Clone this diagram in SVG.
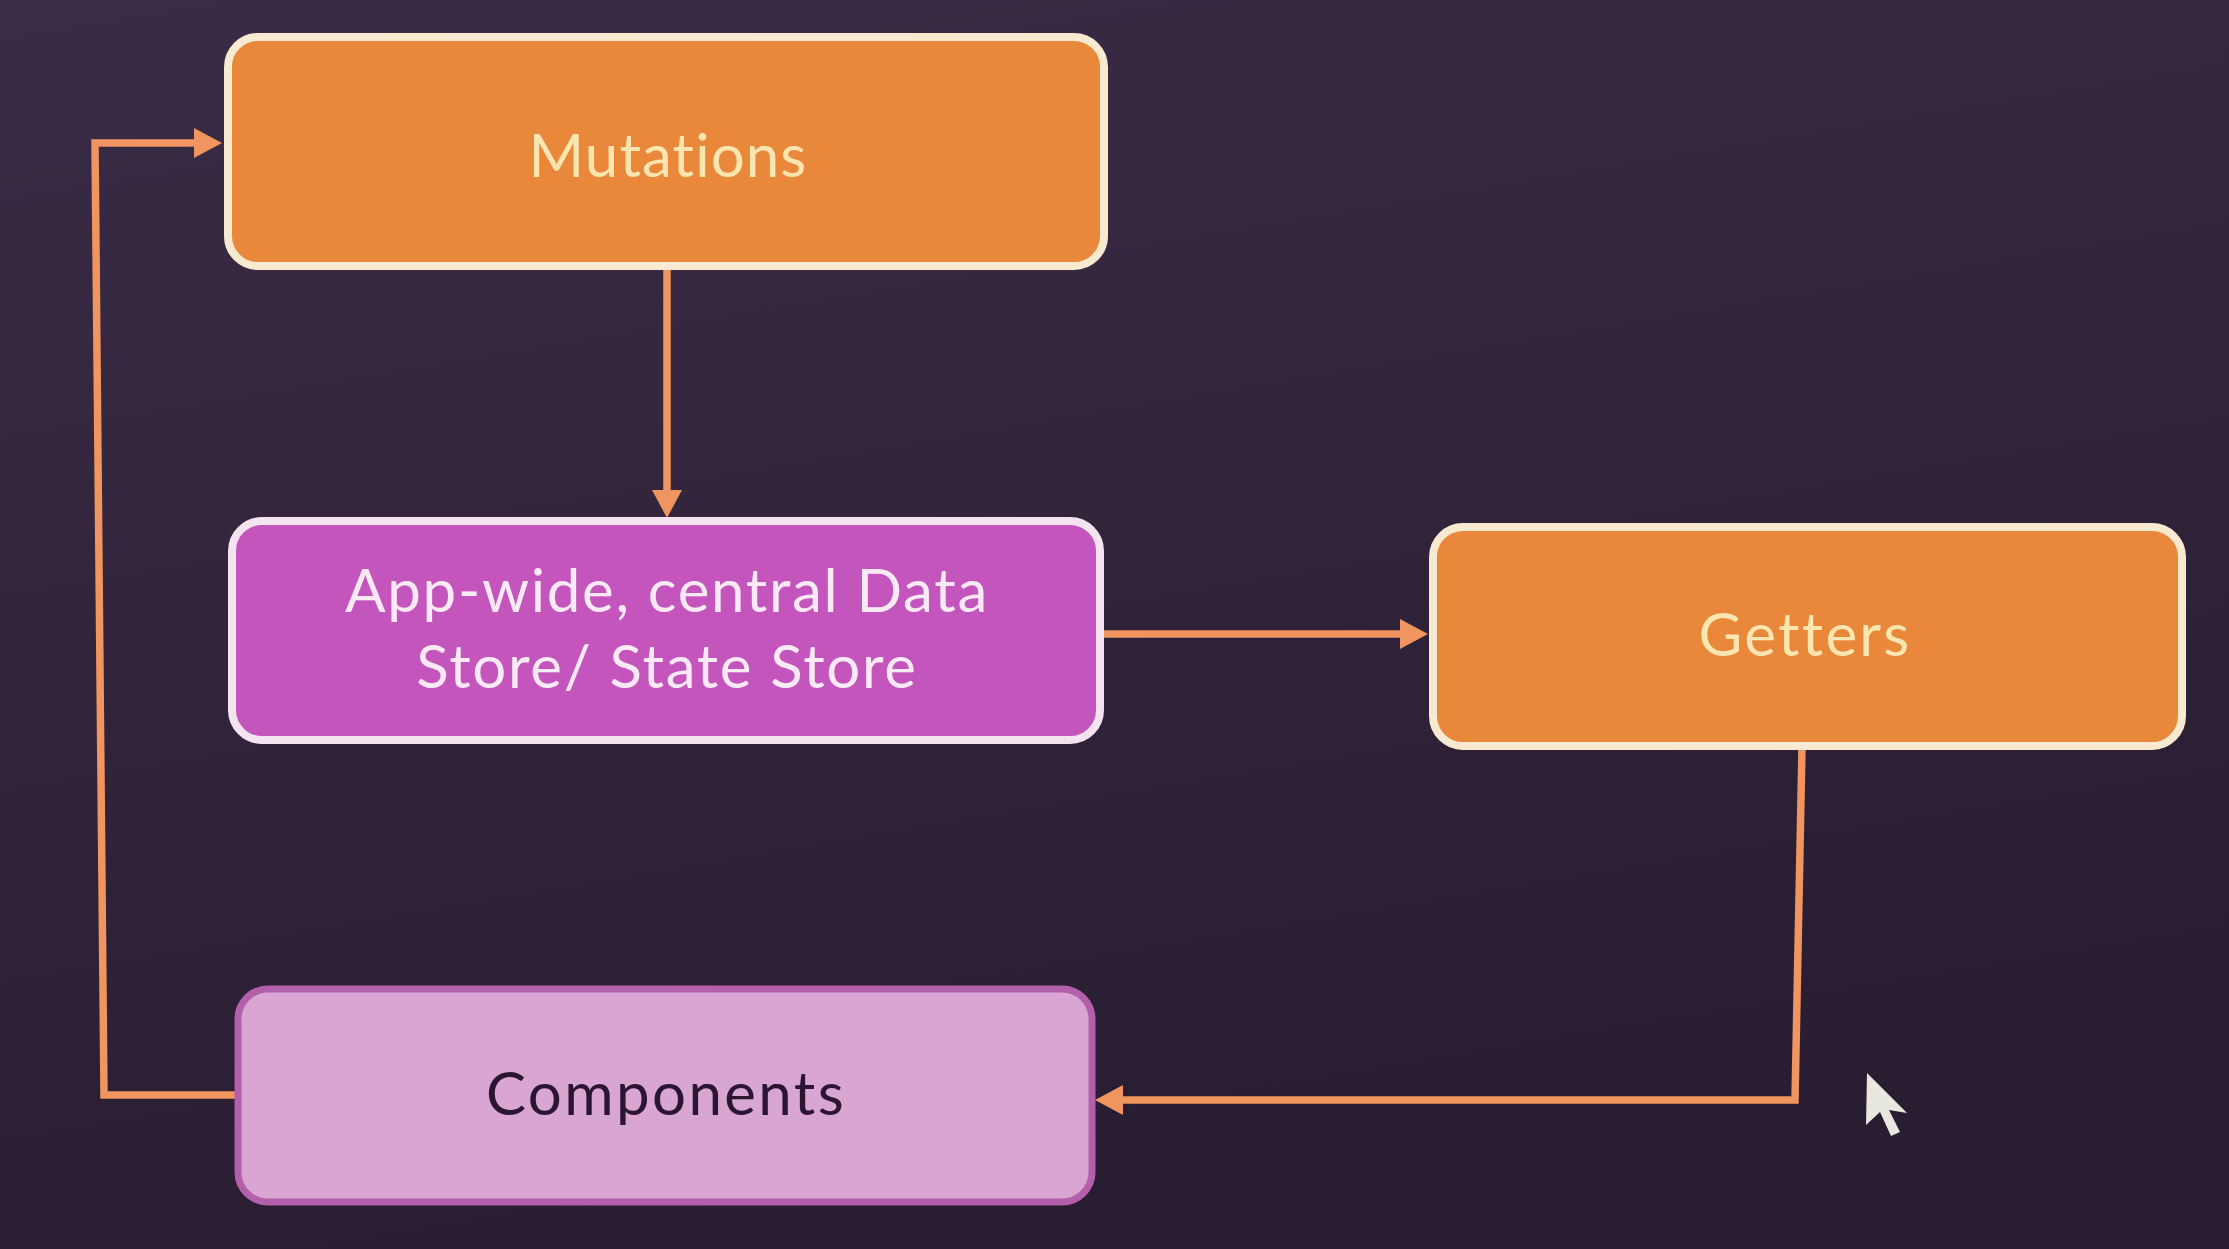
<svg xmlns="http://www.w3.org/2000/svg" width="2229" height="1249" viewBox="0 0 2229 1249">
<defs>
<linearGradient id="bg" x1="0" y1="0" x2="0.3" y2="1">
<stop offset="0" stop-color="#3a2c46"/>
<stop offset="1" stop-color="#291d31"/>
</linearGradient>
<marker id="ah" markerUnits="userSpaceOnUse" markerWidth="30" markerHeight="34" refX="0" refY="17" orient="auto" overflow="visible">
<path d="M0,2 L28,17 L0,32 Z" fill="#f0955f"/>
</marker>
<style>
.conn{fill:none;stroke:#f0955f;stroke-width:7.5;stroke-linejoin:miter}
.orange{fill:#e9873a;stroke:#f8ead0;stroke-width:8}
.mag{fill:#c355bd;stroke:#f4e4ef;stroke-width:8}
.comp{fill:#d9a5d3;stroke:#b35fab;stroke-width:7}
.lbl{font-family:Lato,"Noto Sans","Liberation Sans",sans-serif;font-size:60px;text-anchor:middle}
.lo{fill:#fbe6b0}
.lm{fill:#fbeaf6}
.lc{fill:#2b1530}
</style>
</defs>
<rect width="2229" height="1249" fill="url(#bg)"/>
<g id="connectors">
<path class="conn" d="M667,268 L667,490" marker-end="url(#ah)"/>
<path class="conn" d="M1102,634 L1400,634" marker-end="url(#ah)"/>
<path class="conn" d="M1802,748 L1795,1100 L1123,1100" marker-end="url(#ah)"/>
<path class="conn" d="M236,1095 L104,1095 L95,143 L194,143" marker-end="url(#ah)"/>
</g>
<g id="mutations">
<rect class="orange" x="228" y="37" width="876" height="229" rx="30"/>
<text class="lbl lo" x="668" y="177" font-size="64" letter-spacing="1.1">Mutations</text>
</g>
<g id="store">
<rect class="mag" x="232" y="521" width="868" height="219" rx="30"/>
<text class="lbl lm" x="667" y="612" letter-spacing="1.7">App-wide, central Data</text>
<text class="lbl lm" x="667" y="688" letter-spacing="1.7">Store/ State Store</text>
</g>
<g id="getters">
<rect class="orange" x="1433" y="527" width="749" height="219" rx="30"/>
<text class="lbl lo" x="1805" y="656" letter-spacing="2.3">Getters</text>
</g>
<g id="components">
<rect class="comp" x="238" y="989" width="854" height="213" rx="30"/>
<text class="lbl lc" x="666" y="1115" letter-spacing="2.4">Components</text>
</g>
<path d="M1867,1073 L1866,1125 L1880,1112 L1891,1136 L1900,1132 L1889,1110 L1907,1113 Z" fill="#e9e8e0"/>
</svg>
